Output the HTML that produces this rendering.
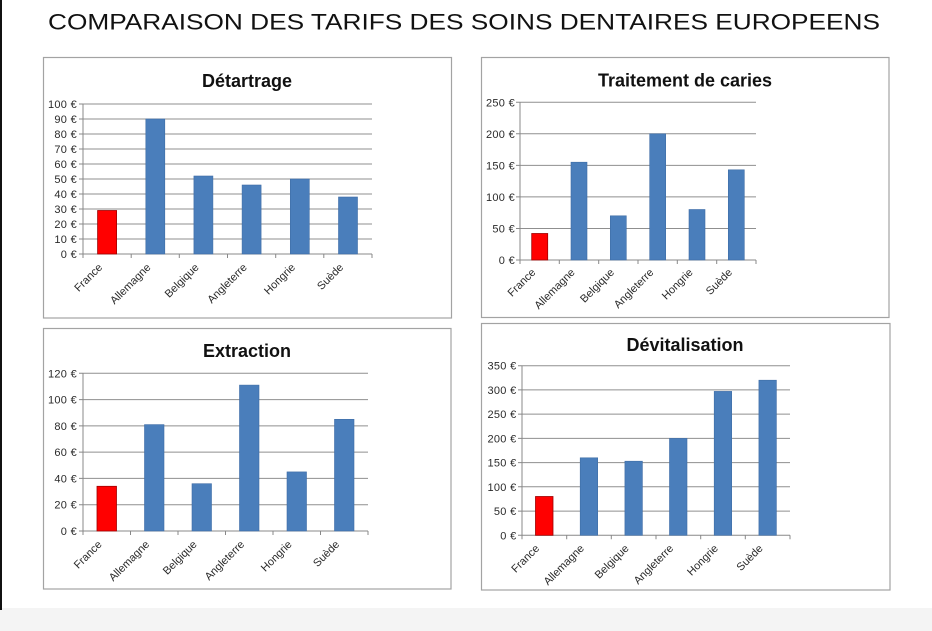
<!DOCTYPE html>
<html><head><meta charset="utf-8"><style>
html,body{margin:0;padding:0;background:#fff;}
svg{display:block;}
.t{font-family:"Liberation Sans",Arial,sans-serif;}
.tk{font-family:"Liberation Sans",Arial,sans-serif;font-size:11px;letter-spacing:0.3px;fill:#2a2a2a;text-anchor:end;}
.ct{font-family:"Liberation Sans",Arial,sans-serif;font-size:11px;fill:#2a2a2a;text-anchor:end;}
.ttl{font-family:"Liberation Sans",Arial,sans-serif;font-size:18px;font-weight:bold;fill:#111;text-anchor:middle;}
.g{stroke:#8f8f8f;stroke-width:1;}
.ax{stroke:#888;stroke-width:1;}
.b{fill:#4a7ebb;stroke:#3f6da6;stroke-width:0.6;}
.r{fill:#ff0000;stroke:#a00000;stroke-width:0.8;}
.pn{fill:#fff;stroke:#a3a3a3;stroke-width:1.2;}
</style></head><body>
<svg width="932" height="631" viewBox="0 0 932 631" xmlns="http://www.w3.org/2000/svg">
<rect x="0" y="0" width="932" height="631" fill="#fff"/>
<rect x="0" y="608" width="932" height="23" fill="#f4f4f4"/>
<rect x="0" y="0" width="2" height="610" fill="#111"/>

<text class="t" x="48" y="29.5" font-size="22" fill="#111" textLength="832" lengthAdjust="spacingAndGlyphs">COMPARAISON DES TARIFS DES SOINS DENTAIRES EUROPEENS</text>

<!-- Panel 1 -->
<rect class="pn" x="43.5" y="57.5" width="408" height="260.5"/>
<text class="ttl" x="247" y="87">Détartrage</text>
<g>
<line class="g" x1="83" y1="239" x2="372" y2="239"/>
<line class="g" x1="83" y1="224" x2="372" y2="224"/>
<line class="g" x1="83" y1="209" x2="372" y2="209"/>
<line class="g" x1="83" y1="194" x2="372" y2="194"/>
<line class="g" x1="83" y1="179" x2="372" y2="179"/>
<line class="g" x1="83" y1="164" x2="372" y2="164"/>
<line class="g" x1="83" y1="149" x2="372" y2="149"/>
<line class="g" x1="83" y1="134" x2="372" y2="134"/>
<line class="g" x1="83" y1="119" x2="372" y2="119"/>
<line class="g" x1="83" y1="104" x2="372" y2="104"/>
<line class="ax" x1="79" y1="254" x2="372" y2="254"/>
<line class="ax" x1="83" y1="104" x2="83" y2="254"/>
<path class="ax" d="M79 239H83M79 224H83M79 209H83M79 194H83M79 179H83M79 164H83M79 149H83M79 134H83M79 119H83M79 104H83"/>
<path class="ax" d="M83 254V258M131.2 254V258M179.3 254V258M227.5 254V258M275.7 254V258M323.8 254V258M372 254V258"/>
<text class="tk" x="77" y="258">0 €</text>
<text class="tk" x="77" y="243">10 €</text>
<text class="tk" x="77" y="228">20 €</text>
<text class="tk" x="77" y="213">30 €</text>
<text class="tk" x="77" y="198">40 €</text>
<text class="tk" x="77" y="183">50 €</text>
<text class="tk" x="77" y="168">60 €</text>
<text class="tk" x="77" y="153">70 €</text>
<text class="tk" x="77" y="138">80 €</text>
<text class="tk" x="77" y="123">90 €</text>
<text class="tk" x="77" y="108">100 €</text>
<rect class="r" x="97.6" y="210.5" width="19" height="43.5"/>
<rect class="b" x="145.8" y="119" width="19" height="135"/>
<rect class="b" x="193.9" y="176" width="19" height="78"/>
<rect class="b" x="242.1" y="185" width="19" height="69"/>
<rect class="b" x="290.3" y="179" width="19" height="75"/>
<rect class="b" x="338.5" y="197" width="19" height="57"/>
<text class="ct" transform="translate(103,268) rotate(-45)">France</text>
<text class="ct" transform="translate(151.3,268) rotate(-45)">Allemagne</text>
<text class="ct" transform="translate(199.4,268) rotate(-45)">Belgique</text>
<text class="ct" transform="translate(247.6,268) rotate(-45)">Angleterre</text>
<text class="ct" transform="translate(295.8,268) rotate(-45)">Hongrie</text>
<text class="ct" transform="translate(344,268) rotate(-45)">Suède</text>
</g>

<!-- Panel 2 -->
<rect class="pn" x="481.5" y="57.5" width="407.5" height="260"/>
<text class="ttl" x="685" y="86.5">Traitement de caries</text>
<g>
<line class="g" x1="520" y1="228.5" x2="756" y2="228.5"/>
<line class="g" x1="520" y1="196.9" x2="756" y2="196.9"/>
<line class="g" x1="520" y1="165.4" x2="756" y2="165.4"/>
<line class="g" x1="520" y1="133.8" x2="756" y2="133.8"/>
<line class="g" x1="520" y1="102.3" x2="756" y2="102.3"/>
<line class="ax" x1="516" y1="260" x2="756" y2="260"/>
<line class="ax" x1="520" y1="102.3" x2="520" y2="260"/>
<path class="ax" d="M516 228.5H520M516 196.9H520M516 165.4H520M516 133.8H520M516 102.3H520"/>
<path class="ax" d="M520 260V264M559.3 260V264M598.7 260V264M638 260V264M677.3 260V264M716.7 260V264M756 260V264"/>
<text class="tk" x="515" y="264">0 €</text>
<text class="tk" x="515" y="232.5">50 €</text>
<text class="tk" x="515" y="200.9">100 €</text>
<text class="tk" x="515" y="169.4">150 €</text>
<text class="tk" x="515" y="137.8">200 €</text>
<text class="tk" x="515" y="106.3">250 €</text>
<rect class="r" x="531.7" y="233.5" width="16" height="26.5"/>
<rect class="b" x="571" y="162.2" width="16" height="97.8"/>
<rect class="b" x="610.3" y="215.8" width="16" height="44.2"/>
<rect class="b" x="649.7" y="133.8" width="16" height="126.2"/>
<rect class="b" x="689" y="209.5" width="16" height="50.5"/>
<rect class="b" x="728.3" y="169.8" width="16" height="90.2"/>
<text class="ct" transform="translate(536.2,273) rotate(-45)">France</text>
<text class="ct" transform="translate(575.5,273) rotate(-45)">Allemagne</text>
<text class="ct" transform="translate(614.8,273) rotate(-45)">Belgique</text>
<text class="ct" transform="translate(654.2,273) rotate(-45)">Angleterre</text>
<text class="ct" transform="translate(693.5,273) rotate(-45)">Hongrie</text>
<text class="ct" transform="translate(732.8,273) rotate(-45)">Suède</text>
</g>

<!-- Panel 3 -->
<rect class="pn" x="43.5" y="328.5" width="407.5" height="260.5"/>
<text class="ttl" x="247" y="357">Extraction</text>
<g>
<line class="g" x1="83" y1="504.7" x2="368" y2="504.7"/>
<line class="g" x1="83" y1="478.4" x2="368" y2="478.4"/>
<line class="g" x1="83" y1="452.1" x2="368" y2="452.1"/>
<line class="g" x1="83" y1="425.9" x2="368" y2="425.9"/>
<line class="g" x1="83" y1="399.6" x2="368" y2="399.6"/>
<line class="g" x1="83" y1="373.3" x2="368" y2="373.3"/>
<line class="ax" x1="79" y1="531" x2="368" y2="531"/>
<line class="ax" x1="83" y1="373.3" x2="83" y2="531"/>
<path class="ax" d="M79 504.7H83M79 478.4H83M79 452.1H83M79 425.9H83M79 399.6H83M79 373.3H83"/>
<path class="ax" d="M83 531V535M130.5 531V535M178 531V535M225.5 531V535M273 531V535M320.5 531V535M368 531V535"/>
<text class="tk" x="77" y="535">0 €</text>
<text class="tk" x="77" y="508.7">20 €</text>
<text class="tk" x="77" y="482.4">40 €</text>
<text class="tk" x="77" y="456.1">60 €</text>
<text class="tk" x="77" y="429.9">80 €</text>
<text class="tk" x="77" y="403.6">100 €</text>
<text class="tk" x="77" y="377.3">120 €</text>
<rect class="r" x="97" y="486.3" width="19.5" height="44.7"/>
<rect class="b" x="144.5" y="424.6" width="19.5" height="106.4"/>
<rect class="b" x="192" y="483.7" width="19.5" height="47.3"/>
<rect class="b" x="239.5" y="385.1" width="19.5" height="145.9"/>
<rect class="b" x="287" y="471.9" width="19.5" height="59.1"/>
<rect class="b" x="334.5" y="419.3" width="19.5" height="111.7"/>
<text class="ct" transform="translate(102.5,545) rotate(-45)">France</text>
<text class="ct" transform="translate(150,545) rotate(-45)">Allemagne</text>
<text class="ct" transform="translate(197.5,545) rotate(-45)">Belgique</text>
<text class="ct" transform="translate(245,545) rotate(-45)">Angleterre</text>
<text class="ct" transform="translate(292.5,545) rotate(-45)">Hongrie</text>
<text class="ct" transform="translate(340,545) rotate(-45)">Suède</text>
</g>

<!-- Panel 4 -->
<rect class="pn" x="481.5" y="323.5" width="408.5" height="266.5"/>
<text class="ttl" x="685" y="351">Dévitalisation</text>
<g>
<line class="g" x1="522" y1="511.1" x2="790" y2="511.1"/>
<line class="g" x1="522" y1="486.8" x2="790" y2="486.8"/>
<line class="g" x1="522" y1="462.6" x2="790" y2="462.6"/>
<line class="g" x1="522" y1="438.4" x2="790" y2="438.4"/>
<line class="g" x1="522" y1="414.1" x2="790" y2="414.1"/>
<line class="g" x1="522" y1="389.9" x2="790" y2="389.9"/>
<line class="g" x1="522" y1="365.7" x2="790" y2="365.7"/>
<line class="ax" x1="518" y1="535.3" x2="790" y2="535.3"/>
<line class="ax" x1="522" y1="365.7" x2="522" y2="535.3"/>
<path class="ax" d="M518 511.1H522M518 486.8H522M518 462.6H522M518 438.4H522M518 414.1H522M518 389.9H522M518 365.7H522"/>
<path class="ax" d="M522 535.3V539.3M566.7 535.3V539.3M611.3 535.3V539.3M656 535.3V539.3M700.7 535.3V539.3M745.3 535.3V539.3M790 535.3V539.3"/>
<text class="tk" x="516.5" y="539.3">0 €</text>
<text class="tk" x="516.5" y="515.1">50 €</text>
<text class="tk" x="516.5" y="490.8">100 €</text>
<text class="tk" x="516.5" y="466.6">150 €</text>
<text class="tk" x="516.5" y="442.4">200 €</text>
<text class="tk" x="516.5" y="418.1">250 €</text>
<text class="tk" x="516.5" y="393.9">300 €</text>
<text class="tk" x="516.5" y="369.7">350 €</text>
<rect class="r" x="535.5" y="496.5" width="17.5" height="38.8"/>
<rect class="b" x="580.2" y="457.8" width="17.5" height="77.5"/>
<rect class="b" x="624.9" y="461.2" width="17.5" height="74.1"/>
<rect class="b" x="669.5" y="438.4" width="17.5" height="96.9"/>
<rect class="b" x="714.2" y="391.4" width="17.5" height="143.9"/>
<rect class="b" x="758.9" y="380.2" width="17.5" height="155.1"/>
<text class="ct" transform="translate(540,549) rotate(-45)">France</text>
<text class="ct" transform="translate(584.7,549) rotate(-45)">Allemagne</text>
<text class="ct" transform="translate(629.4,549) rotate(-45)">Belgique</text>
<text class="ct" transform="translate(674,549) rotate(-45)">Angleterre</text>
<text class="ct" transform="translate(718.7,549) rotate(-45)">Hongrie</text>
<text class="ct" transform="translate(763.4,549) rotate(-45)">Suède</text>
</g>
</svg>
</body></html>
